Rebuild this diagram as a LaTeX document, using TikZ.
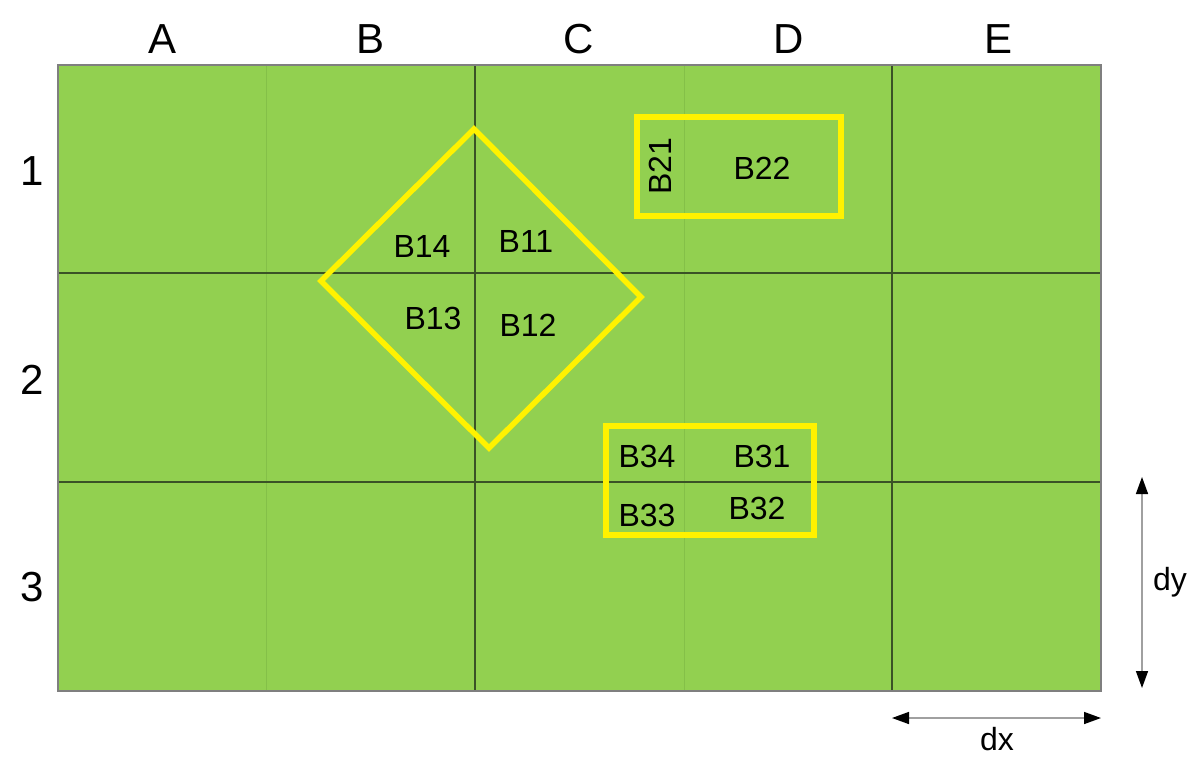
\documentclass[tikz,border=0pt]{standalone}
\usepackage{fontspec}
\setmainfont{Liberation Sans}
\usetikzlibrary{arrows.meta}
\definecolor{grass}{HTML}{92D050}
\definecolor{darkline}{HTML}{3A5226}
\definecolor{faintline}{HTML}{84C048}
\definecolor{rim}{HTML}{7F7F7F}
\definecolor{arrowgrey}{HTML}{A0A0A0}
\tikzset{
  axislabel/.style={font=\fontsize{42}{42}\selectfont, inner sep=0pt},
  blabel/.style={font=\fontsize{32}{32}\selectfont, inner sep=0pt},
  yellowline/.style={draw=yellow, line width=5.5pt, line join=miter},
  dimarrow/.style={draw=arrowgrey, line width=1.5pt, {Triangle[length=17pt,width=12pt,fill=black,color=black]}-{Triangle[length=17pt,width=12pt,fill=black,color=black]}},
}
\begin{document}
\begin{tikzpicture}[x=1pt,y=-1pt]
\useasboundingbox (0,0) rectangle (1200,764);
% field
\fill[grass] (58,65) rectangle (1101,691);
\draw[faintline, line width=1pt] (266.6,65) -- (266.6,691);
\draw[faintline, line width=1pt] (684,65) -- (684,691);
\draw[darkline, line width=1.3pt] (475,65) -- (475,691);
\draw[darkline, line width=1.3pt] (892,65) -- (892,691);
\draw[darkline, line width=1.3pt] (58,273) -- (1101,273);
\draw[darkline, line width=1.3pt] (58,482) -- (1101,482);
\draw[rim, line width=1.5pt] (58,65) rectangle (1101,691);
% column labels
\node[axislabel] (colA) at (163,39) {A};
\node[axislabel] (colB) at (371,39) {B};
\node[axislabel] (colC) at (579,39) {C};
\node[axislabel] (colD) at (789,39) {D};
\node[axislabel] (colE) at (998,39) {E};
% row labels
\node[axislabel] (row1) at (32,171) {1};
\node[axislabel] (row2) at (32,380) {2};
\node[axislabel] (row3) at (32,587) {3};
% diamond
\draw[yellowline] (474,129) -- (641,297) -- (489,448) -- (321,281) -- cycle;
\node[blabel] (b14) at (422,246) {B14};
\node[blabel] (b11) at (526,241) {B11};
\node[blabel] (b13) at (433,318) {B13};
\node[blabel] (b12) at (528,325) {B12};
% B2 rectangle
\draw[yellowline] (637,117) rectangle (841,216);
\node[blabel, rotate=90] (b21) at (660,166) {B21};
\node[blabel] (b22) at (762,168) {B22};
% B3 rectangle
\draw[yellowline] (606,426) rectangle (814,535);
\node[blabel] (b34) at (647,456) {B34};
\node[blabel] (b31) at (762,456) {B31};
\node[blabel] (b33) at (647,515) {B33};
\node[blabel] (b32) at (757,508) {B32};
% dimension arrows
\coordinate (dyTop) at (1142,477);
\coordinate (dyBot) at (1142,688);
\coordinate (dxLeft) at (892,718);
\coordinate (dxRight) at (1101,718);
\draw[dimarrow] (dyTop) -- (dyBot);
\draw[dimarrow] (dxLeft) -- (dxRight);
\node[blabel] (dy) at (1170,582) {dy};
\node[blabel] (dx) at (997,739) {dx};
\end{tikzpicture}
\end{document}
